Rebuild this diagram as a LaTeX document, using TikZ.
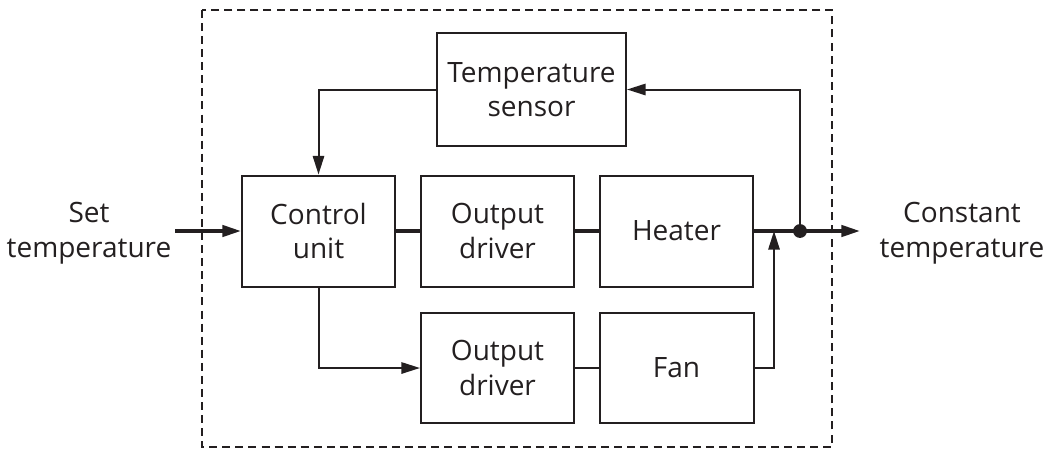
\documentclass[tikz,border=0pt]{standalone}
\usepackage{fontspec}
\setmainfont{Open Sans}
\usetikzlibrary{arrows.meta}
\definecolor{ink}{HTML}{231F20}
\begin{document}
\begin{tikzpicture}[x=0.75pt,y=-0.75pt,
  every node/.style={font=\fontsize{21}{26}\selectfont, text=ink},
  blk/.style={draw=ink, line width=1.5pt, align=center, inner sep=0pt},
  thin/.style={draw=ink, line width=1.5pt},
  thick/.style={draw=ink, line width=2.6pt},
  arr/.style={-{Triangle[length=14pt,width=8.5pt]}},
  lbl/.style={align=center}]
\useasboundingbox (0,0) rectangle (1052,451);
\draw[ink, line width=1.1pt, dash pattern=on 6pt off 3.8pt] (202,10) rectangle (832,447);
\node[blk, minimum width=114.75pt, minimum height=83.25pt] (cu) at (318.5,231) {Control\\unit};
\node[blk, minimum width=114.75pt, minimum height=83.25pt] (od1) at (497.5,231) {Output\\driver};
\node[blk, minimum width=114.75pt, minimum height=83.25pt] (ht) at (676.5,231) {Heater};
\node[blk, minimum width=141.75pt, minimum height=84.75pt] (ts) at (531.5,89.5) {Temperature\\sensor};
\node[blk, minimum width=114.75pt, minimum height=82.5pt] (od2) at (497.5,368) {Output\\driver};
\node[blk, minimum width=115.5pt, minimum height=82.5pt] (fan) at (676.5,368) {Fan};
\node[lbl] (set) at (89,233) {Set\\temperature};
\node[lbl] (const) at (962,233) {Constant\\temperature};
\coordinate (in) at (175,231);
\coordinate (out) at (860,231);
\coordinate (dot) at (800,231);
\coordinate (join) at (774,231);
\draw[thick, arr] (in) -- (cu.west);
\draw[thick] (cu.east) -- (od1.west);
\draw[thick] (od1.east) -- (ht.west);
\draw[thick, arr] (ht.east) -- (out);
\fill[ink] (dot) circle (5.2pt);
\draw[thin, arr] (dot) |- (ts.east);
\draw[thin, arr] (ts.west) -| (cu.north);
\draw[thin, arr] (cu.south) |- (od2.west);
\draw[thin] (od2.east) -- (fan.west);
\draw[thin, arr] (fan.east) -| (join);
\end{tikzpicture}
\end{document}
